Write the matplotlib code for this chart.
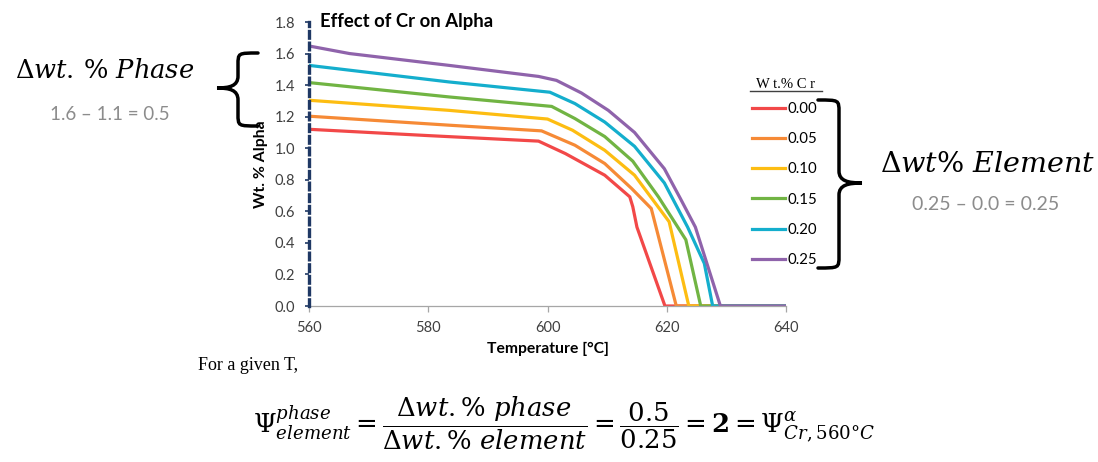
import matplotlib
matplotlib.use('Agg')
import matplotlib.pyplot as plt
from matplotlib.path import Path
from matplotlib.patches import PathPatch
from matplotlib.lines import Line2D

plt.rcParams['font.family'] = ['Lato', 'DejaVu Sans']

# Wt.% alpha vs temperature for each Cr level
cr_labels = ['0.00', '0.05', '0.10', '0.15', '0.20', '0.25']
colors = ['#F24848', '#F68A36', '#FDBD12', '#71B443', '#14AECD', '#8F63AB']

t_00 = [560, 580, 598.5, 603, 609.6, 613.8, 614.3, 615, 619.7, 640]
w_00 = [1.12, 1.08, 1.045, 0.966, 0.829, 0.692, 0.63, 0.50, 0.0, 0.0]
t_05 = [560, 583.5, 599, 604.6, 609.6, 614.1, 617.4, 621.6, 640]
w_05 = [1.203, 1.146, 1.11, 1.019, 0.903, 0.745, 0.618, 0.0, 0.0]
t_10 = [560, 583.5, 600, 604.2, 609.6, 614.6, 620.4, 623.7, 640]
w_10 = [1.304, 1.24, 1.185, 1.114, 0.987, 0.829, 0.534, 0.0, 0.0]
t_15 = [560, 583.5, 600.7, 604.6, 609.6, 614.3, 618.6, 623.2, 625.7, 640]
w_15 = [1.416, 1.325, 1.265, 1.188, 1.074, 0.918, 0.692, 0.42, 0.0, 0.0]
t_20 = [560, 583.5, 600.4, 604.6, 609.6, 614.6, 619.6, 623.5, 626.3, 627.7, 640]
w_20 = [1.525, 1.42, 1.355, 1.283, 1.166, 1.012, 0.78, 0.50, 0.27, 0.0, 0.0]
t_25 = [560, 566.8, 583.5, 598.5, 601.5, 605.7, 610.2, 614.6, 619.6, 622.3, 624.8, 629, 640]
w_25 = [1.648, 1.60, 1.525, 1.455, 1.43, 1.35, 1.24, 1.10, 0.87, 0.68, 0.50, 0.0, 0.0]

temps = [t_00, t_05, t_10, t_15, t_20, t_25]
wts = [w_00, w_05, w_10, w_15, w_20, w_25]

W, H = 1098, 462
fig = plt.figure(figsize=(W / 100, H / 100), dpi=100)
ax = fig.add_axes([309 / W, 156 / H, 477 / W, 284 / H])

lines = []
for t, w, c, lab in zip(temps, wts, colors, cr_labels):
    ln, = ax.plot(t, w, color=c, lw=2.3, label=lab, solid_joinstyle='miter')
    lines.append(ln)

ax.set_xlim(560, 640)
ax.set_ylim(0, 1.8)
ax.set_xticks([560, 580, 600, 620, 640])
ax.set_yticks([0.0, 0.2, 0.4, 0.6, 0.8, 1.0, 1.2, 1.4, 1.6, 1.8])
ax.set_yticklabels(['%.1f' % v for v in ax.get_yticks()])
for s in ['top', 'right']:
    ax.spines[s].set_visible(False)
ax.spines['bottom'].set_color('#A6A6A6')
ax.spines['bottom'].set_linewidth(0.9)
ax.spines['left'].set_color('#1F3864')
ax.spines['left'].set_linewidth(2.4)
ax.spines['left'].set_linestyle((0, (2.0, 1.5)))
ax.spines['left'].set_zorder(5)
ax.tick_params(axis='x', colors='#A6A6A6', labelcolor='#404040', length=4, width=0.9,
               pad=7, labelsize=10.5)
ax.tick_params(axis='y', colors='#1F3864', labelcolor='#404040', length=3, width=1.2,
               pad=7, labelsize=10.5)
ax.set_xlabel('Temperature [°C]', fontweight='bold', fontsize=11.3, labelpad=5)
ax.set_ylabel('Wt. % Alpha', fontweight='bold', fontsize=11.3, labelpad=5)
fig.text(320 / W, 1 - 27 / H, 'Effect of Cr on Alpha', fontweight='bold', fontsize=13.3,
         va='baseline', ha='left')

# legend with underlined title
fig.legend(handles=lines, loc='upper left', bbox_to_anchor=(752 / W, 1 - 102 / H),
           frameon=False, borderpad=0, borderaxespad=0, handlelength=2.2,
           handletextpad=0.2, labelspacing=1.08, fontsize=10.8)
fig.text(786 / W, 1 - 88 / H, 'W t.% C r', family='Liberation Serif', fontsize=10.5,
         ha='center', va='baseline')
fig.add_artist(Line2D([750 / W, 822 / W], [1 - 91 / H, 1 - 91 / H], color='#404040', lw=1.0))


def brace(x_end, x_stem, x_tip, y_top, y_bot, y_mid):
    # curly brace in pixel coords (y down), opening toward x_end
    r = 12
    d = x_stem - x_tip
    pts = [(x_end, y_top),
           (x_stem, y_top), (x_stem, y_top), (x_stem, y_top + r),
           (x_stem, y_mid - r),
           (x_stem, y_mid - 2), (x_stem - d * 0.4, y_mid), (x_tip, y_mid),
           (x_stem - d * 0.4, y_mid), (x_stem, y_mid + 2), (x_stem, y_mid + r),
           (x_stem, y_bot - r),
           (x_stem, y_bot), (x_stem, y_bot), (x_end, y_bot)]
    codes = [Path.MOVETO] + [Path.CURVE4] * 3 + [Path.LINETO] + [Path.CURVE4] * 6 + \
            [Path.LINETO] + [Path.CURVE4] * 3
    verts = [(x / W, 1 - y / H) for x, y in pts]
    fig.add_artist(PathPatch(Path(verts, codes), transform=fig.transFigure,
                             fill=False, lw=2.5, color='black', capstyle='round'))


brace(258, 238, 217, 53, 126, 88)
brace(818, 839, 862, 100, 268, 183)

fig.text(15 / W, 1 - 78 / H, r'$\Delta\mathit{wt.\,\%\ Phase}$', fontsize=18.5,
         math_fontfamily='dejavuserif', va='baseline', ha='left')
fig.text(110 / W, 1 - 114 / H, '1.6 – 1.1 = 0.5', color='#8C8C8C', fontsize=13.5,
         ha='center', va='center')
fig.text(880 / W, 1 - 172 / H, r'$\Delta\mathit{wt\%\ Element}$', fontsize=20.5,
         math_fontfamily='dejavuserif', va='baseline', ha='left')
fig.text(986 / W, 1 - 205 / H, '0.25 – 0.0 = 0.25', color='#8C8C8C', fontsize=14,
         ha='center', va='center')

fig.text(198 / W, 1 - 365 / H, 'For a given T,', family='Liberation Serif', fontsize=13,
         ha='left', va='center')
fig.text(253 / W, 1 - 423 / H,
         r'$\Psi^{phase}_{element} = \dfrac{\Delta wt.\%\ phase}{\Delta wt.\%\ element}'
         r' = \dfrac{0.5}{0.25} = \mathbf{2} = \Psi^{\alpha}_{Cr,560\degree C}$',
         fontsize=18.6, math_fontfamily='dejavuserif', ha='left', va='center')

fig.savefig('out.png', dpi=100, facecolor='white')
